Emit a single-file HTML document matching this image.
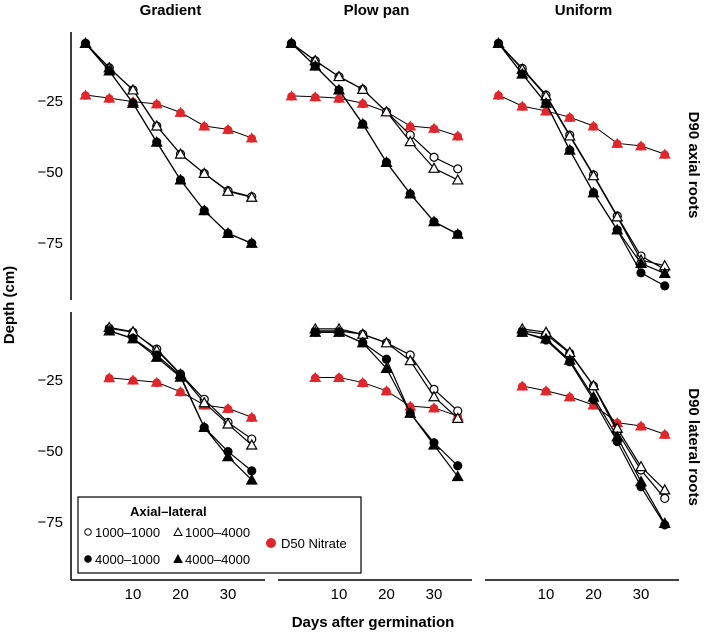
<!DOCTYPE html>
<html><head><meta charset="utf-8">
<style>
html,body{margin:0;padding:0;background:#fff;}
svg{display:block;font-family:"Liberation Sans",Arial,sans-serif;}
</style></head>
<body>
<svg id="chart" width="705" height="634" viewBox="0 0 705 634"></svg>
<script>
const days = [0,5,10,15,20,25,30,35];
const panels = ["Gradient","Plow pan","Uniform"];
const rowLabels = ["D90 axial roots","D90 lateral roots"];
const yTicks = [-25,-50,-75];
const xTicks = [10,20,30];
// series values [row][col]; row 0 = axial (days 0..35), row 1 = lateral (days 5..35, first = null)
const nitrate = [
 [[-22.9,-24,-25.2,-26,-29,-33.8,-35,-38],[-23.2,-23.5,-24,-25.8,-28.8,-33.8,-34.6,-37.3],[-22.9,-26.8,-28.5,-30.7,-33.8,-39.9,-40.8,-43.7]],
 [[null,-24.2,-25,-25.8,-29.1,-33.8,-35,-38.1],[null,-24.1,-24.1,-25.9,-28.8,-34.2,-34.8,-37.7],[null,-27.1,-28.8,-30.9,-33.8,-40,-41.2,-44.1]]
];
const s1000_1000 = [
 [[-4.7,-13.3,-21.1,-33.8,-43.7,-50.5,-56.6,-58.7],[-4.7,-10.8,-16.4,-20.9,-28.8,-37,-44.8,-48.9],[-4.7,-13.5,-22.9,-37,-51,-65.5,-79.6,-84.3]],
 [[null,-6.8,-8.2,-14.1,-22.9,-31.8,-39.9,-45.8],[null,-7.7,-7.7,-8.9,-11.9,-16.2,-28.3,-35.9],[null,-7.7,-8.9,-15.6,-27.1,-43.2,-56.7,-66.7]]
];
const s1000_4000 = [
 [[-4.7,-13.3,-21.1,-33.8,-43.7,-50.5,-56.8,-58.9],[-4.7,-10.8,-16.4,-20.9,-28.8,-39.3,-48.7,-52.8],[-4.7,-13.8,-23.2,-37.3,-51.3,-65.8,-81,-83]],
 [[null,-6.5,-8,-14.5,-23,-33,-40.5,-47.9],[null,-7,-7,-8.9,-11.9,-18.2,-30.9,-38.5],[null,-7,-8.2,-15.3,-27,-42,-55.5,-63.7]]
];
const s4000_1000 = [
 [[-4.7,-14.4,-25.8,-39.5,-52.8,-63.6,-71.6,-75.1],[-4.7,-12.7,-21.1,-33.1,-46.6,-57.7,-67.5,-71.9],[-4.7,-15.5,-25.8,-42.3,-57.3,-70.4,-85.5,-90.1]],
 [[null,-7.7,-10.3,-16.2,-23.5,-41.7,-50.2,-57],[null,-8.2,-8.2,-11.9,-17.7,-36.7,-47.1,-55.2],[null,-8.2,-10.9,-18.6,-32,-46.7,-62.6,-76]]
];
const s4000_4000 = [
 [[-4.7,-14.4,-25.8,-39.5,-52.8,-63.6,-71.6,-75.1],[-4.7,-12.7,-21.1,-33.1,-46.6,-57.7,-67.5,-71.9],[-4.7,-15.5,-25.8,-42.3,-57.3,-70.4,-82.2,-85.7]],
 [[null,-7.7,-10.5,-17,-24,-41.7,-52,-60.2],[null,-8.2,-8.2,-11.9,-20.9,-36.7,-47.9,-59],[null,-8.2,-10.5,-18,-31,-45,-60.8,-75.5]]
];

const NS="http://www.w3.org/2000/svg";
const svg=document.getElementById('chart');
function mk(tag,attrs,parent){const e=document.createElementNS(NS,tag);for(const k in attrs)e.setAttribute(k,attrs[k]);(parent||svg).appendChild(e);return e;}
const colX0=[85.5,291.5,498.5];
const rowY25=[101,380];
function xs(c,d){return colX0[c]+d*4.75;}
function ys(r,v){return rowY25[r]+(-25-v)*2.84;}

function marker(g,shape,fill,x,y,name){
  let e;
  if(shape==='circle'){e=mk('circle',{cx:x,cy:y,r:4,fill:fill,stroke:'#000','stroke-width':1.2},g);}
  else if(shape==='tri'){e=mk('polygon',{points:`${x},${y-5} ${x-5},${y+4} ${x+5},${y+4}`,fill:fill,stroke:'#000','stroke-width':1.2},g);}
  else {e=mk('g',{},g);mk('circle',{cx:x,cy:y+0.5,r:4.3,fill:'#e0262a'},e);mk('polygon',{points:`${x},${y-5.5} ${x-6},${y+4.5} ${x+6},${y+4.5}`,fill:'#e0262a'},e);}
  
  
}
function drawSeries(r,c,vals,shape,fill,name,lw){
  const g=mk('g',{});
  
  
  const pts=[];
  vals.forEach((v,i)=>{if(v!==null)pts.push([xs(c,days[i]),ys(r,v)]);});
  mk('polyline',{points:pts.map(p=>p.join(',')).join(' '),fill:'none',stroke:'#000','stroke-width':lw},g);
  pts.forEach(p=>marker(g,shape,fill,p[0],p[1],name+'-point'));
}

for(let r=0;r<2;r++){for(let c=0;c<3;c++){
  drawSeries(r,c,nitrate[r][c],'red','#e0262a','d50-nitrate',1);
  drawSeries(r,c,s1000_1000[r][c],'circle','#fff','1000-1000',1.2);
  drawSeries(r,c,s1000_4000[r][c],'tri','#fff','1000-4000',1.2);
  drawSeries(r,c,s4000_1000[r][c],'circle','#000','4000-1000',1.2);
  drawSeries(r,c,s4000_4000[r][c],'tri','#000','4000-4000',1.2);
}}

// axes
const yAxisRows=[[32,300],[312,580]];
yAxisRows.forEach((a,r)=>{
  const l=mk('line',{x1:71,x2:71,y1:a[0],y2:a[1],stroke:'#000','stroke-width':1.5});
  
  
  yTicks.forEach(t=>{
    const y=ys(r,t);
    const tx=mk('text',{x:63,y:y+5,'text-anchor':'end','font-size':15,fill:'#000'});
    tx.textContent='\u2212'+Math.abs(t);
    
    
  });
});
for(let c=0;c<3;c++){
  const x0=[71,278,485][c];
  const l=mk('line',{x1:x0,x2:x0+194,y1:580,y2:580,stroke:'#000','stroke-width':1.5});
  
  
  xTicks.forEach(t=>{
    const x=xs(c,t);
    const tx=mk('text',{x:x,y:599,'text-anchor':'middle','font-size':15,fill:'#000'});
    tx.textContent=t;
    
    
  });
  const pt=mk('text',{x:colX0[c]+85,y:15,'text-anchor':'middle','font-size':15,'font-weight':'bold',fill:'#000'});
  pt.textContent=panels[c];
  
  
}
[165,447].forEach((cy,r)=>{
  const t=mk('text',{x:0,y:0,'text-anchor':'middle','font-size':15,'font-weight':'bold',fill:'#000',transform:`translate(689,${cy}) rotate(90)`});
  t.textContent=rowLabels[r];
  
  
});
const yt=mk('text',{x:0,y:0,'text-anchor':'middle','font-size':15,'font-weight':'bold',fill:'#000',transform:'translate(14,305) rotate(-90)'});
yt.textContent='Depth (cm)';


const xt=mk('text',{x:373,y:627,'text-anchor':'middle','font-size':15,'font-weight':'bold',fill:'#000'});
xt.textContent='Days after germination';



// legend
const lg=mk('g',{});


mk('rect',{x:78,y:497,width:283,height:76,fill:'#fff',stroke:'#000','stroke-width':1.2},lg);
const lt=mk('text',{x:130,y:516,'font-size':13,'font-weight':'bold',fill:'#000'},lg);
lt.textContent='Axial\u2013lateral';


const entries=[['circle','#fff',88,532,'1000\u20131000'],['tri','#fff',178,532,'1000\u20134000'],['circle','#000',88,559,'4000\u20131000'],['tri','#000',178,559,'4000\u20134000']];
entries.forEach(e=>{
  const g=mk('g',{},lg);
  
  
  if(e[0]==='circle')mk('circle',{cx:e[2],cy:e[3],r:3.3,fill:e[1],stroke:'#000','stroke-width':1},g);
  else mk('polygon',{points:`${e[2]},${e[3]-4} ${e[2]-4},${e[3]+3.5} ${e[2]+4},${e[3]+3.5}`,fill:e[1],stroke:'#000','stroke-width':1},g);
  const t=mk('text',{x:e[2]+7,y:e[3]+5,'font-size':13,fill:'#000'},g);
  t.textContent=e[4];
});
const ng=mk('g',{},lg);


mk('circle',{cx:271,cy:543,r:5,fill:'#e0262a'},ng);
const nt=mk('text',{x:281,y:548,'font-size':13,fill:'#000'},ng);
nt.textContent='D50 Nitrate';
</script>
</body></html>
